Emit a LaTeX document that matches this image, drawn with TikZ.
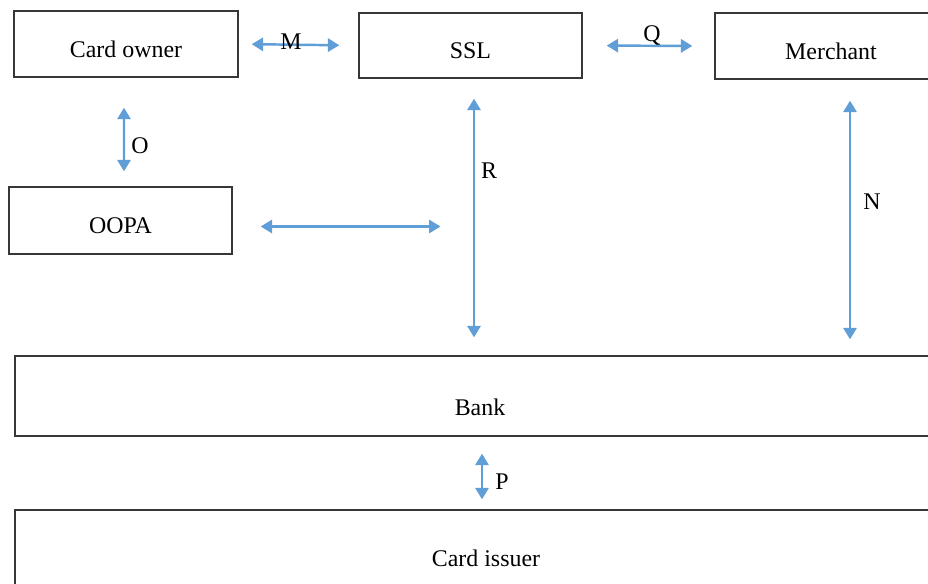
\documentclass[tikz,border=0pt]{standalone}
\usepackage{fontspec}
\setmainfont{Liberation Serif}
\usetikzlibrary{arrows.meta,calc}
\definecolor{edgeblue}{RGB}{95, 158, 215}
\definecolor{boxgray}{RGB}{55, 55, 55}
\def\lblsize{\fontsize{13.6}{16}\selectfont}
\begin{document}
\begin{tikzpicture}[x=0.02cm, y=-0.02cm, line cap=round,
    box/.style={draw=boxgray, line width=0.8pt, font=\lblsize,
                text height=1.5em, text depth=0pt, inner sep=0pt},
    link/.style={edgeblue, line width=1.4pt,
                 {Triangle[length=6.5pt, width=7.5pt]}-{Triangle[length=6.5pt, width=7.5pt]}},
    tag/.style={font=\lblsize, inner sep=0pt}]

                 \useasboundingbox (0, 0) rectangle (928, 583);
                 \clip (0, 0) rectangle (928, 583);

                 % boxes
                 \node[box, minimum width=4.48cm, minimum height=1.32cm] (owner) at (126, 44) {Card owner};
                 \node[box, minimum width=4.46cm, minimum height=1.30cm] (ssl) at (470.5, 45.5) {SSL};
                 \node[box, minimum width=4.64cm, minimum height=1.32cm] (merchant) at (831, 46) {Merchant};
                 \node[box, minimum width=4.46cm, minimum height=1.34cm] (oopa) at (120.5, 220.5) {OOPA};
                 \node[box, minimum width=18.6cm, minimum height=1.6cm, text height=2.26em] (bank) at (480, 396) {Bank};
                 \node[box, minimum width=18.84cm, minimum height=1.72cm] (issuer) at (486, 553) {Card issuer};

                 % arrows
                 \draw[link, shorten <=0.26cm, shorten >=0.38cm] (owner.east) -- (ssl.west);
                 \draw[link, shorten <=0.48cm, shorten >=0.44cm] (ssl.east) -- (merchant.west);
                 \draw[link, shorten <=0.6cm, shorten >=0.3cm]
                 ([xshift=-0.04cm]owner.south) -- ([xshift=0.07cm]oopa.north);
                 \draw[link, shorten <=0.56cm, shorten >=0.6cm]
                 ([yshift=-0.12cm]oopa.east) -- ([yshift=-0.12cm]oopa.east -| ssl.south);
                 \draw[link, shorten <=0.4cm, shorten >=0.36cm]
                 ([xshift=0.07cm]ssl.south) -- ([xshift=0.07cm]ssl.south |- bank.north);
                 \draw[link, shorten <=0.42cm, shorten >=0.32cm]
                 ([xshift=0.38cm]merchant.south) -- ([xshift=0.38cm]merchant.south |- bank.north);
                 \draw[link, shorten <=0.34cm, shorten >=0.2cm]
                 ([xshift=0.04cm]bank.south) -- ([xshift=0.04cm]bank.south |- issuer.north);

                 % labels
                 \node[tag] (lblM) at (291, 42) {M};
                 \node[tag] (lblQ) at (652, 36) {Q};
                 \node[tag] (lblO) at (140, 146) {O};
                 \node[tag] (lblR) at (489, 171) {R};
                 \node[tag] (lblN) at (872, 202) {N};
                 \node[tag] (lblP) at (502, 482) {P};

             \end{tikzpicture}
\end{document}
